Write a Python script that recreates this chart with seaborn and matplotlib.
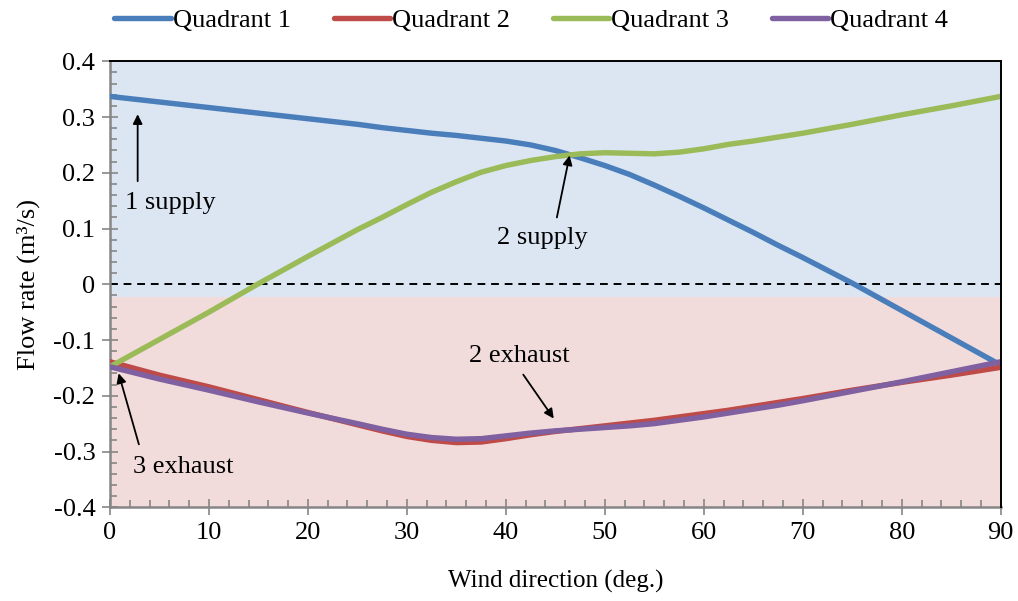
import matplotlib
matplotlib.use("Agg")
import matplotlib.pyplot as plt
import pandas as pd
import seaborn as sns

# wind direction (deg.)
angles = [0, 5, 10, 15, 20, 25, 27.5, 30, 32.5, 35, 37.5, 40, 42.5, 45, 47.5, 50,
          52.5, 55, 57.5, 60, 62.5, 65, 67.5, 70, 75, 80, 85, 90]

# flow rate (m3/s) per quadrant
quadrant1 = [0.337, 0.327, 0.317, 0.307, 0.297, 0.287, 0.281, 0.276, 0.271, 0.267,
             0.262, 0.257, 0.250, 0.240, 0.227, 0.213, 0.197, 0.178, 0.158, 0.137,
             0.115, 0.093, 0.070, 0.048, 0.002, -0.047, -0.096, -0.145]
quadrant2 = [-0.139, -0.163, -0.184, -0.207, -0.230, -0.252, -0.263, -0.273, -0.280, -0.284,
             -0.283, -0.277, -0.270, -0.264, -0.259, -0.254, -0.249, -0.244, -0.238, -0.232,
             -0.226, -0.219, -0.212, -0.205, -0.190, -0.176, -0.163, -0.149]
quadrant3 = [-0.148, -0.099, -0.050, 0.001, 0.050, 0.098, 0.120, 0.143, 0.165, 0.184,
             0.201, 0.213, 0.222, 0.229, 0.234, 0.236, 0.235, 0.234, 0.237, 0.243,
             0.251, 0.257, 0.264, 0.271, 0.287, 0.304, 0.320, 0.337]
quadrant4 = [-0.148, -0.170, -0.190, -0.211, -0.231, -0.250, -0.260, -0.269, -0.275, -0.278,
             -0.277, -0.272, -0.267, -0.263, -0.260, -0.257, -0.254, -0.250, -0.244, -0.238,
             -0.231, -0.224, -0.217, -0.209, -0.192, -0.175, -0.157, -0.139]

series_names = ["Quadrant 1", "Quadrant 2", "Quadrant 3", "Quadrant 4"]
colors = ["#4A7EBB", "#BE4B48", "#9BBB59", "#7F60A0"]
x_ticks = [0, 10, 20, 30, 40, 50, 60, 70, 80, 90]
y_ticks = [-0.4, -0.3, -0.2, -0.1, 0, 0.1, 0.2, 0.3, 0.4]

rows = []
for name, vals in zip(series_names, [quadrant1, quadrant2, quadrant3, quadrant4]):
    for a, v in zip(angles, vals):
        rows.append({"angle": a, "flow": v, "series": name})
df = pd.DataFrame(rows)

sns.set_style("white")
plt.rcParams["font.family"] = ["Liberation Serif", "DejaVu Serif"]
plt.rcParams["font.size"] = 19
plt.rcParams["text.color"] = "black"
plt.rcParams["axes.labelcolor"] = "black"
plt.rcParams["xtick.color"] = "black"
plt.rcParams["ytick.color"] = "black"

fig = plt.figure(figsize=(10.18, 6.01), dpi=100)
ax = fig.add_axes([0.108, 0.156, 0.875, 0.742])

# shaded supply / exhaust regions
ax.axhspan(-0.022, 0.4, color="#DCE6F2", zorder=0, lw=0)
ax.axhspan(-0.4, -0.022, color="#F2DCDB", zorder=0, lw=0)
ax.axhline(0, color="black", lw=1.4, ls=(0, (4, 3)), zorder=1)

sns.lineplot(data=df, x="angle", y="flow", hue="series", palette=colors,
             linewidth=3.9, ax=ax, zorder=3, solid_joinstyle="round")

ax.set_xlim(0, 90)
ax.set_ylim(-0.4, 0.4)
ax.set_xticks(x_ticks)
ax.set_yticks(y_ticks)
ax.set_xticklabels([f"{t:g}" for t in x_ticks])
ax.set_yticklabels([f"{round(t, 1):g}" for t in y_ticks])
ax.set_xticks(range(0, 91, 2), minor=True)
ax.set_yticks([i / 100 for i in range(-40, 41, 2)], minor=True)
ax.tick_params(which="major", direction="inout", length=11, width=1.2,
               color="#868686", labelcolor="black", labelsize=19, pad=5)
ax.tick_params(which="minor", direction="in", length=5, width=1.2, color="#868686")
ax.tick_params(axis="x", which="both", bottom=True)
ax.tick_params(axis="y", which="both", left=True)

for side in ["left", "bottom"]:
    ax.spines[side].set_color("#868686")
    ax.spines[side].set_linewidth(1.8)
for side in ["top", "right"]:
    ax.spines[side].set_color("black")
    ax.spines[side].set_linewidth(1.4)
    ax.spines[side].set_zorder(5)

ax.set_xlabel("Wind direction (deg.)", fontsize=18, labelpad=19)
ax.set_ylabel("Flow rate (m³/s)", fontsize=19, labelpad=10)

arrow = dict(arrowstyle="-|>", color="black", lw=1.3, mutation_scale=14)
ax.text(1.5, 0.145, "1 supply", fontsize=19, ha="left", va="center")
ax.annotate("", xy=(2.8, 0.31), xytext=(2.8, 0.18), arrowprops=arrow)
ax.text(43.7, 0.083, "2 supply", fontsize=19, ha="center", va="center")
ax.annotate("", xy=(46.5, 0.236), xytext=(45.1, 0.115), arrowprops=arrow)
ax.text(41.4, -0.129, "2 exhaust", fontsize=19, ha="center", va="center")
ax.annotate("", xy=(45, -0.245), xytext=(41.6, -0.158), arrowprops=arrow)
ax.text(2.3, -0.328, "3 exhaust", fontsize=19, ha="left", va="center")
ax.annotate("", xy=(0.8, -0.155), xytext=(3.0, -0.292), arrowprops=arrow)

ax.legend(loc="center", bbox_to_anchor=(0.522, 0.966), bbox_transform=fig.transFigure,
          ncol=4, frameon=False, fontsize=19, handlelength=2.15, handletextpad=0.08,
          columnspacing=1.6, title=None)

fig.savefig("out.png", dpi=100)
